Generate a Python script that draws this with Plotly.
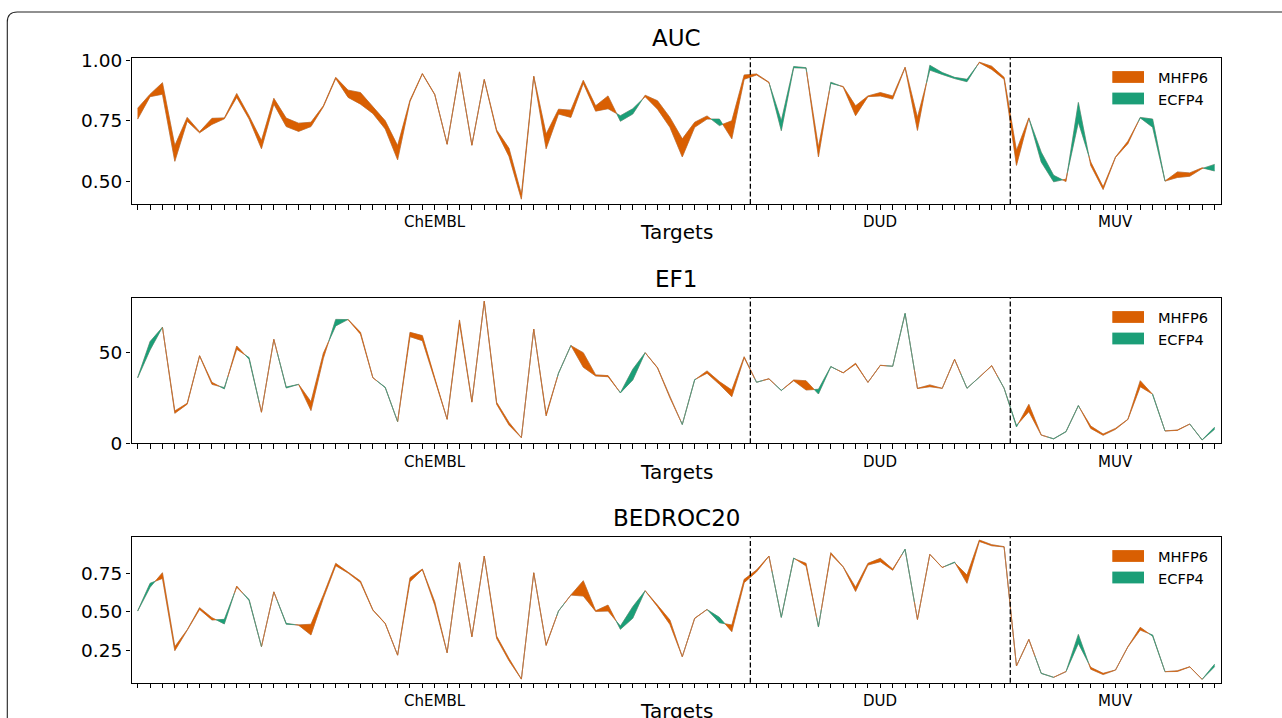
import plotly.graph_objects as go

W, H = 1282, 718

# Benchmark groups, in plotting order
GROUPS = ["ChEMBL", "DUD", "MUV"]
GROUP_SIZES = [50, 21, 17]

METRICS = ["AUC", "EF1", "BEDROC20"]

auc_mhfp6 = [0.802, 0.86, 0.908, 0.647, 0.764, 0.705, 0.76, 0.762, 0.863, 0.77,
             0.668, 0.843, 0.761, 0.74, 0.744, 0.812, 0.93, 0.877, 0.867, 0.808,
             0.75, 0.647, 0.835, 0.946, 0.86, 0.654, 0.953, 0.65, 0.922, 0.712,
             0.636, 0.445, 0.935, 0.695, 0.798, 0.794, 0.918, 0.812, 0.853, 0.748,
             0.778, 0.856, 0.833, 0.764, 0.675, 0.744, 0.77, 0.73, 0.75, 0.94,
             0.944, 0.91, 0.709, 0.97, 0.968, 0.64, 0.905, 0.892, 0.812, 0.853,
             0.867, 0.853, 0.972, 0.764, 0.96, 0.942, 0.925, 0.912, 0.993, 0.976,
             0.93, 0.627, 0.762, 0.579, 0.497, 0.508, 0.744, 0.579, 0.476, 0.60,
             0.665, 0.762, 0.723, 0.50, 0.538, 0.534, 0.555, 0.542]
auc_ecfp4 = [0.757, 0.85, 0.86, 0.582, 0.748, 0.70, 0.735, 0.758, 0.847, 0.757,
             0.634, 0.819, 0.726, 0.706, 0.726, 0.808, 0.925, 0.847, 0.819, 0.78,
             0.716, 0.588, 0.83, 0.944, 0.858, 0.652, 0.951, 0.648, 0.92, 0.705,
             0.602, 0.425, 0.933, 0.634, 0.778, 0.764, 0.905, 0.79, 0.80, 0.771,
             0.80, 0.85, 0.798, 0.723, 0.60, 0.723, 0.757, 0.757, 0.675, 0.922,
             0.94, 0.908, 0.75, 0.975, 0.97, 0.60, 0.91, 0.89, 0.771, 0.85,
             0.853, 0.84, 0.97, 0.71, 0.98, 0.95, 0.93, 0.922, 0.991, 0.963,
             0.922, 0.565, 0.76, 0.62, 0.524, 0.498, 0.826, 0.565, 0.465, 0.598,
             0.655, 0.764, 0.757, 0.50, 0.515, 0.52, 0.552, 0.569]

ef1_mhfp6 = [36.0, 51.3, 63.8, 17.8, 22.0, 48.2, 33.5, 29.9, 53.5, 46.2,
             17.2, 57.2, 30.4, 32.4, 22.9, 49.5, 64.5, 68.1, 61.0, 36.1,
             30.6, 11.9, 61.0, 59.2, 35.7, 13.2, 67.8, 22.9, 78.2, 22.5,
             11.5, 3.1, 62.8, 16.0, 38.5, 53.7, 49.8, 37.6, 37.2, 27.7,
             34.8, 49.8, 41.6, 25.6, 10.3, 34.8, 39.8, 33.9, 29.3, 47.6,
             33.5, 35.5, 29.0, 34.8, 34.4, 27.1, 42.1, 38.8, 44.0, 33.5,
             42.9, 42.3, 71.2, 30.2, 32.1, 30.2, 46.2, 30.2, 36.3, 42.7,
             30.2, 9.0, 21.4, 4.6, 2.4, 6.3, 20.6, 9.5, 5.1, 8.2,
             13.2, 34.4, 26.9, 6.8, 7.3, 10.6, 1.8, 7.7]
ef1_ecfp4 = [36.2, 55.9, 63.8, 16.5, 21.5, 48.0, 32.4, 30.6, 51.7, 47.1,
             17.0, 57.0, 30.9, 32.4, 18.0, 46.7, 68.1, 68.0, 60.0, 36.0,
             30.8, 11.9, 58.6, 56.4, 35.0, 13.2, 66.0, 22.6, 78.0, 21.5,
             10.0, 3.1, 62.7, 15.0, 38.6, 53.8, 41.8, 37.0, 36.6, 27.8,
             40.7, 49.8, 41.4, 25.0, 10.4, 35.0, 38.5, 32.4, 25.6, 47.0,
             33.6, 35.4, 29.1, 34.4, 29.3, 29.7, 42.2, 38.7, 43.5, 33.5,
             42.8, 42.4, 71.5, 30.1, 31.1, 30.2, 46.1, 30.3, 36.3, 42.6,
             30.3, 9.8, 17.4, 4.5, 2.5, 6.5, 20.8, 8.2, 4.4, 7.7,
             13.1, 31.1, 27.0, 6.8, 7.1, 10.6, 1.9, 8.8]

bedroc_mhfp6 = [0.504, 0.659, 0.754, 0.272, 0.382, 0.526, 0.461, 0.42, 0.667, 0.573,
                0.272, 0.63, 0.418, 0.414, 0.418, 0.609, 0.815, 0.756, 0.70, 0.512,
                0.424, 0.217, 0.722, 0.778, 0.565, 0.233, 0.822, 0.338, 0.863, 0.341,
                0.195, 0.061, 0.754, 0.285, 0.504, 0.609, 0.702, 0.506, 0.543, 0.385,
                0.457, 0.637, 0.543, 0.446, 0.207, 0.457, 0.515, 0.428, 0.413, 0.711,
                0.772, 0.863, 0.462, 0.847, 0.815, 0.40, 0.885, 0.793, 0.66, 0.815,
                0.848, 0.778, 0.905, 0.45, 0.874, 0.789, 0.82, 0.739, 0.967, 0.937,
                0.924, 0.146, 0.32, 0.097, 0.072, 0.109, 0.293, 0.137, 0.098, 0.12,
                0.272, 0.398, 0.34, 0.109, 0.115, 0.141, 0.059, 0.141]
bedroc_ecfp4 = [0.506, 0.685, 0.717, 0.246, 0.378, 0.515, 0.446, 0.45, 0.66, 0.58,
                0.272, 0.628, 0.424, 0.412, 0.348, 0.587, 0.80, 0.752, 0.69, 0.51,
                0.422, 0.216, 0.696, 0.774, 0.543, 0.232, 0.82, 0.335, 0.862, 0.326,
                0.18, 0.06, 0.753, 0.279, 0.505, 0.608, 0.602, 0.502, 0.504, 0.406,
                0.533, 0.636, 0.533, 0.417, 0.206, 0.456, 0.514, 0.463, 0.37, 0.689,
                0.76, 0.862, 0.465, 0.85, 0.798, 0.403, 0.875, 0.791, 0.632, 0.804,
                0.826, 0.77, 0.908, 0.449, 0.873, 0.788, 0.824, 0.685, 0.958, 0.93,
                0.922, 0.146, 0.318, 0.099, 0.072, 0.108, 0.352, 0.125, 0.09, 0.119,
                0.27, 0.38, 0.348, 0.109, 0.11, 0.14, 0.059, 0.157]

SERIES = [(auc_mhfp6, auc_ecfp4), (ef1_mhfp6, ef1_ecfp4), (bedroc_mhfp6, bedroc_ecfp4)]
Y_RANGES = [[0.405, 1.009], [0, 79.7], [0.037, 0.985]]
Y_TICKS = [[0.5, 0.75, 1.0], [0, 50], [0.25, 0.5, 0.75]]
Y_FORMAT = [".2f", "d", ".2f"]

ORANGE = "#d95f02"
GREEN = "#1b9e77"
TRACE_GREY = "#a08878"
FONT = "DejaVu Sans"

# panel geometry in pixels (top, bottom), shared left/right edges
PANELS = [(58.3, 204.0), (298.3, 443.3), (537.3, 682.7)]
LEFT, RIGHT = 131.5, 1220.7


def px(x):
    return x / W


def py(y):
    return 1 - y / H


def band_polygons(x, top, bottom):
    """Outlines of the stretches where top > bottom, with crossings interpolated."""
    rx, rt, rb = [x[0]], [top[0]], [bottom[0]]
    for i in range(len(x) - 1):
        d0 = top[i] - bottom[i]
        d1 = top[i + 1] - bottom[i + 1]
        if d0 * d1 < 0:
            f = d0 / (d0 - d1)
            xc = x[i] + f * (x[i + 1] - x[i])
            yc = top[i] + f * (top[i + 1] - top[i])
            rx.append(xc)
            rt.append(yc)
            rb.append(yc)
        rx.append(x[i + 1])
        rt.append(top[i + 1])
        rb.append(bottom[i + 1])

    xs, ys = [], []

    def flush(a, b):
        idx = list(range(a, b + 1))
        xs.extend([rx[k] for k in idx] + [rx[k] for k in reversed(idx)] + [rx[a], None])
        ys.extend([rt[k] for k in idx] + [rb[k] for k in reversed(idx)] + [rt[a], None])

    seg = None
    for j in range(len(rx) - 1):
        diff = (rt[j] + rt[j + 1]) - (rb[j] + rb[j + 1])
        if diff > 0:
            seg = [j, j + 1] if seg is None else [seg[0], j + 1]
        elif seg is not None:
            flush(*seg)
            seg = None
    if seg is not None:
        flush(*seg)
    return xs, ys


n = sum(GROUP_SIZES)
x = list(range(n))
starts = [sum(GROUP_SIZES[:k]) for k in range(len(GROUP_SIZES))]
group_centers = [(s + s + size - 1) // 2 for s, size in zip(starts, GROUP_SIZES)]
dividers = [s - 0.5 for s in starts[1:]]

fig = go.Figure()
shapes = []
annotations = []

for k, ((m, e), metric) in enumerate(zip(SERIES, METRICS)):
    xa = "x" if k == 0 else f"x{k + 1}"
    ya = "y" if k == 0 else f"y{k + 1}"
    top, bottom = PANELS[k]

    # thin traces of both series
    for vals in (m, e):
        fig.add_trace(go.Scatter(x=x, y=vals, mode="lines", xaxis=xa, yaxis=ya,
                                 line=dict(color=TRACE_GREY, width=0.8),
                                 showlegend=False, hoverinfo="skip"))

    # MHFP6 ahead (orange) and ECFP4 ahead (green)
    ox, oy = band_polygons(x, m, e)
    gx, gy = band_polygons(x, e, m)
    fig.add_trace(go.Scatter(x=ox, y=oy, mode="lines", fill="toself", fillcolor=ORANGE,
                             line=dict(color=ORANGE, width=0.3), xaxis=xa, yaxis=ya,
                             name="MHFP6", showlegend=False, hoverinfo="skip"))
    fig.add_trace(go.Scatter(x=gx, y=gy, mode="lines", fill="toself", fillcolor=GREEN,
                             line=dict(color=GREEN, width=0.3), xaxis=xa, yaxis=ya,
                             name="ECFP4", showlegend=False, hoverinfo="skip"))

    axis_common = dict(showline=True, mirror=True, linecolor="black", linewidth=1.2,
                       showgrid=False, zeroline=False, ticks="outside", ticklen=4.5,
                       tickwidth=1.1, tickcolor="black")
    xdom = [px(LEFT), px(RIGHT)]
    ydom = [py(bottom), py(top)]
    fig.update_layout(**{
        ("xaxis" if k == 0 else f"xaxis{k + 1}"): dict(
            domain=xdom, range=[-0.5, n - 0.5], tickvals=x, showticklabels=False,
            anchor=ya, **axis_common),
        ("yaxis" if k == 0 else f"yaxis{k + 1}"): dict(
            domain=ydom, range=Y_RANGES[k], tickvals=Y_TICKS[k], tickformat=Y_FORMAT[k],
            tickfont=dict(family=FONT, size=18.5, color="black"), anchor=xa, **axis_common),
    })

    for d in dividers:
        shapes.append(dict(type="line", xref=xa, yref=f"{ya} domain", x0=d, x1=d, y0=0, y1=1,
                           line=dict(color="black", width=1.3, dash="5px,2.6px")))

    off = top - PANELS[0][0]
    # panel title
    annotations.append(dict(text=metric, xref="paper", yref="paper",
                            x=px((LEFT + RIGHT) / 2), y=py(38.5 + off),
                            xanchor="center", yanchor="middle", showarrow=False,
                            font=dict(family=FONT, size=23, color="black")))
    # group names under the axis
    for name, c in zip(GROUPS, group_centers):
        annotations.append(dict(text=name, xref=xa, yref="paper", x=c, y=py(222 + off),
                                xanchor="center", yanchor="middle", showarrow=False,
                                font=dict(family=FONT, size=15, color="black")))
    # axis title
    annotations.append(dict(text="Targets", xref="paper", yref="paper",
                            x=px((LEFT + RIGHT) / 2), y=py(231.8 + off),
                            xanchor="center", yanchor="middle", showarrow=False,
                            font=dict(family=FONT, size=20, color="black")))
    # legend
    for j, (label, color) in enumerate([("MHFP6", ORANGE), ("ECFP4", GREEN)]):
        y0 = top + 12.8 + j * 21.5
        shapes.append(dict(type="rect", xref="paper", yref="paper",
                           x0=px(1112.3), x1=px(1144.0), y0=py(y0), y1=py(y0 + 11.8),
                           fillcolor=color, line=dict(width=0)))
        annotations.append(dict(text=label, xref="paper", yref="paper",
                                x=px(1155.5), y=py(y0 + 6.6),
                                xanchor="left", yanchor="middle", showarrow=False,
                                font=dict(family=FONT, size=14.6, color="black")))

# rounded border of the figure panel
bx, by, r = 7.3, 12.0, 10.0
frame_path = (f"M {px(bx)},{py(H + 5)} L {px(bx)},{py(by + r)} "
              f"Q {px(bx)},{py(by)} {px(bx + r)},{py(by)} L {px(W + 5)},{py(by)}")
shapes.append(dict(type="path", xref="paper", yref="paper", path=frame_path,
                   line=dict(color="#222222", width=1.1)))

fig.update_layout(
    width=W, height=H,
    margin=dict(l=0, r=0, t=0, b=0, autoexpand=False),
    paper_bgcolor="white", plot_bgcolor="white",
    shapes=shapes, annotations=annotations,
    showlegend=False,
    font=dict(family=FONT, color="black"),
)

fig.write_html("out.html")
